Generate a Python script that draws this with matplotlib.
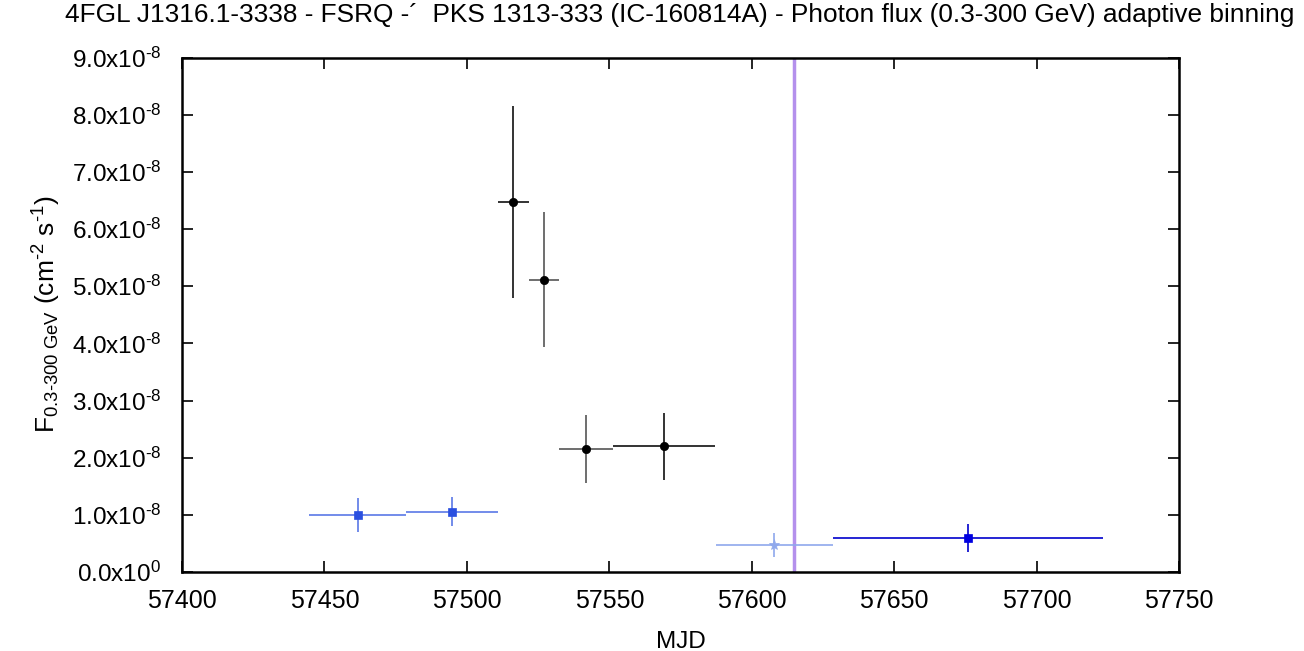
import matplotlib
matplotlib.use("Agg")
import matplotlib.pyplot as plt
import numpy as np

plt.rcParams['font.family'] = ['Liberation Sans', 'DejaVu Sans']
plt.rcParams['mathtext.fontset'] = 'custom'
plt.rcParams['mathtext.rm'] = 'Liberation Sans'
plt.rcParams['mathtext.it'] = 'Liberation Sans:italic'

title = "4FGL J1316.1-3338 - FSRQ -\u00b4  PKS 1313-333 (IC-160814A) - Photon flux (0.3-300 GeV) adaptive binning"

# MJD centres, lower/upper bin edges, flux (1e-8), lower/upper flux
mjd      = [57461.7, 57494.9, 57516.3, 57527.0, 57541.9, 57569.3, 57607.9, 57675.8]
mjd_lo   = [57444.5, 57478.6, 57511.0, 57521.8, 57532.3, 57551.4, 57587.3, 57628.4]
mjd_hi   = [57478.6, 57511.0, 57521.8, 57532.3, 57551.4, 57587.1, 57628.4, 57723.2]
flux     = [1.00, 1.055, 6.467, 5.113, 2.146, 2.204, 0.467, 0.589]
flux_lo  = [0.705, 0.805, 4.787, 3.93, 1.551, 1.609, 0.257, 0.345]
flux_hi  = [1.29, 1.317, 8.157, 6.30, 2.746, 2.787, 0.677, 0.834]
markers  = ['s', 's', 'o', 'o', 'o', 'o', '*', 's']
colors   = ['#2a4fe0', '#2a4fe0', '#000000', '#000000', '#000000', '#000000', '#8fa8ec', '#0000e0']
ecolors  = ['#5a78e6', '#5a78e6', '#111111', '#555555', '#555555', '#111111', '#8fa8ec', '#0000cc']

event_mjd = 57614.9

xticks = [57400, 57450, 57500, 57550, 57600, 57650, 57700, 57750]
yticks = [0, 1, 2, 3, 4, 5, 6, 7, 8, 9]
ylabels = ['0.0x10$^{0}$'] + ['%d.0x10$^{\\text{-8}}$' % v for v in yticks[1:]]

fig = plt.figure(figsize=(13.04, 6.51), dpi=100)
ax = fig.add_axes([182/1304, 1-572/651, (1179-182)/1304, (572-57.5)/651])

scale = 1e-8
for i in range(len(mjd)):
    x = mjd[i]; y = flux[i] * scale
    ax.errorbar([x], [y],
                xerr=[[x - mjd_lo[i]], [mjd_hi[i] - x]],
                yerr=[[(flux[i] - flux_lo[i]) * scale], [(flux_hi[i] - flux[i]) * scale]],
                fmt='none', ecolor=ecolors[i], elinewidth=1.2, capsize=0, zorder=2)
    ms = 6 if markers[i] != '*' else 8
    ax.plot([x], [y], marker=markers[i], color=colors[i], ms=ms, ls='none', zorder=3, mew=0.5)

ax.axvline(event_mjd, color='#b490ec', lw=2.5, zorder=1)

ax.set_xlim(57400, 57750)
ax.set_ylim(0, 9e-8)
ax.set_xticks(xticks)
ax.set_xticklabels([str(v) for v in xticks], fontsize=18)
ax.set_yticks([v * scale for v in yticks])
ax.set_yticklabels(ylabels, fontsize=17.5)
ax.tick_params(direction='in', top=True, right=True, length=8, width=1.2)
ax.tick_params(axis='x', pad=12)
ax.tick_params(axis='y', pad=15)
for s in ax.spines.values():
    s.set_linewidth(1.8)

ax.set_xlabel('MJD', fontsize=17.5, labelpad=13)
ax.set_ylabel('F$_{0.3\\text{-}300\\ \\mathrm{GeV}}$ (cm$^{\\text{-2}}$ s$^{\\text{-1}}$)', fontsize=19, labelpad=6)
fig.text(680/1304, 1 - 15/651, title, ha='center', va='center', fontsize=18.9)

fig.savefig('out.png', dpi=100)
